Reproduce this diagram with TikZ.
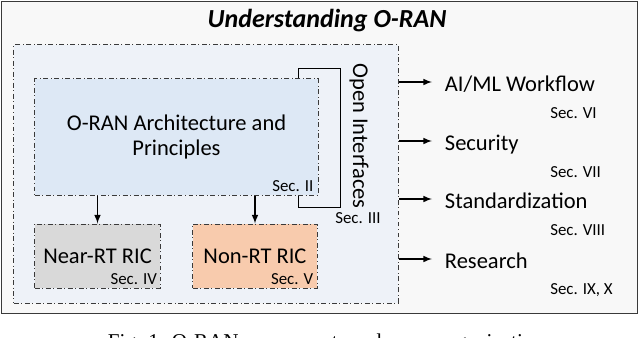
\documentclass[tikz,border=0pt]{standalone}
\usepackage{fontspec}
\setmainfont{Carlito}
\newfontfamily\captionfont{Liberation Serif}
\usepackage{tikz}
\usetikzlibrary{positioning}
\definecolor{framegray}{HTML}{3A3A3A}
\definecolor{pagebg}{HTML}{F8F8F8}
\definecolor{regionbg}{HTML}{EEF2F8}
\definecolor{archblue}{HTML}{DDE8F5}
\definecolor{neargray}{HTML}{D9D9D9}
\definecolor{nonpeach}{HTML}{F8CBAD}
\tikzset{
    dashbox/.style={
        draw=framegray,
        line width=0.7pt,
        dash pattern=on 3.5pt off 1.8pt on 0.7pt off 1.8pt,
        inner sep=0pt,
        align=center,
        font=\fontsize{16}{19}\selectfont
    },
    sec/.style={font=\fontsize{12}{14}\selectfont, inner sep=0pt},
    topic/.style={
        font=\fontsize{16}{19}\selectfont,
        anchor=west,
        inner xsep=9pt,
        inner ysep=0pt,
        text height=14pt,
        text depth=0pt
    },
    arr/.style={-latex, line width=1.1pt},
    bracket/.style={line width=1.1pt},
}

\begin{document}
\begin{tikzpicture}[x=0.025cm, y=-0.025cm]
        \useasboundingbox (0,0) rectangle (640,337);
        % outer frame and caption
        \draw[framegray, line width=1.1pt, fill=pagebg] (1.5,1.5) rectangle (637.5,313.5);
        \node[font=\captionfont\fontsize{15}{18}\selectfont, anchor=base west] (caption) at (103,348) {Fig. 1: O-RAN components and paper organization};
        \node[font=\fontsize{18.5}{22}\selectfont\bfseries\itshape, anchor=base] (title) at (327,27.5) {Understanding O-RAN};

        % left region with the architecture blocks
        \node[dashbox, fill=regionbg, minimum width=9.6cm, minimum height=6.45cm] (region) at (206,174) {};
        \node[dashbox, fill=archblue, minimum width=7.075cm, minimum height=2.9cm] (arch) at (176.5,137) {O-RAN Architecture and\\[-1pt]Principles};
        \node[dashbox, fill=neargray, minimum width=3.125cm, minimum height=1.6cm] (nearrt) at (97.5,256) {Near-RT RIC};
        \node[dashbox, fill=nonpeach, minimum width=3.1cm, minimum height=1.6cm] (nonrt) at (255,256) {Non-RT RIC};

        \node[sec, anchor=south east] (secII) at ([shift={(-0.12cm,0.08cm)}]arch.south east) {Sec. II};
        \node[sec, anchor=south east] (secIV) at ([shift={(-0.08cm,0.1cm)}]nearrt.south east) {Sec. IV};
        \node[sec, anchor=south east] (secV) at ([shift={(-0.1cm,0.1cm)}]nonrt.south east) {Sec. V};

        \draw[arr] (arch.south -| nearrt.north) -- (nearrt.north);
        \draw[arr] (arch.south -| nonrt.north) -- (nonrt.north);

        % open interfaces bracket
        \draw[bracket] ([xshift=-0.5cm]arch.north east) |- ([xshift=0.55cm,yshift=0.25cm]arch.north east) |- ([xshift=-0.5cm,yshift=-0.3cm]arch.south east) -- ([xshift=-0.5cm]arch.south east);
        \node[font=\fontsize{16}{19}\selectfont, rotate=-90] (openif) at (359,136) {Open Interfaces};
        \node[sec] (secIII) at (358,218) {Sec. III};

        % topics on the right
        \node[topic] (aiml) at (432,82) {AI/ML Workflow};
        \node[topic] (security) at (432,141) {Security};
        \node[topic] (standard) at (432,199) {Standardization};
        \node[topic] (research) at (432,259) {Research};

        \draw[arr] (region.east |- aiml.west) -- (aiml.west);
        \draw[arr] (region.east |- security.west) -- (security.west);
        \draw[arr] (region.east |- standard.west) -- (standard.west);
        \draw[arr] (region.east |- research.west) -- (research.west);

        \node[sec, anchor=base west] (secVI) at (550,118) {Sec. VI};
        \node[sec, anchor=base west] (secVII) at (550,177) {Sec. VII};
        \node[sec, anchor=base west] (secVIII) at (550,235) {Sec. VIII};
        \node[sec, anchor=base west] (secIX) at (550,294) {Sec. IX, X};
\end{tikzpicture}
\end{document}
